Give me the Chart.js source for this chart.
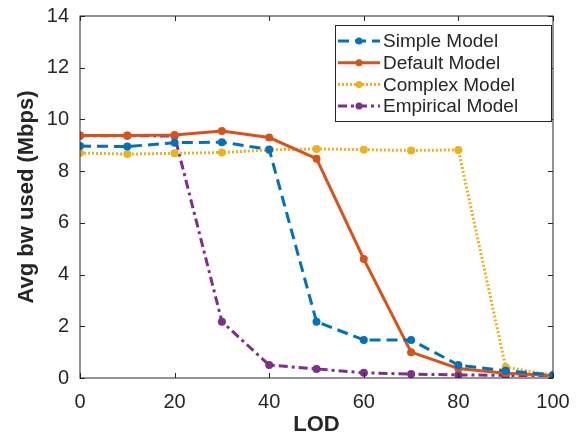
<!DOCTYPE html>
<html lang="en">
<head>
  <meta charset="UTF-8">
  <title>Avg bw used vs LOD</title>
  <script src="https://cdn.jsdelivr.net/npm/chart.js"></script>
  <style>
    body {
      margin: 0;
      padding: 0;
      background: #fff;
    }
    #wrap {
      width: 576px;
      height: 438px;
    }
  </style>
</head>
<body>
  <div id="wrap">
    <canvas id="bwChart" width="576" height="438"></canvas>
  </div>

  <script>
    // values
    const lod = [0, 10, 20, 30, 40, 50, 60, 70, 80, 90, 100];
    const simpleModel    = [8.97, 8.95, 9.10, 9.12, 8.84, 2.18, 1.47, 1.47, 0.50, 0.28, 0.12];
    const defaultModel   = [9.38, 9.38, 9.40, 9.55, 9.30, 8.48, 4.60, 1.00, 0.37, 0.18, 0.10];
    const complexModel   = [8.70, 8.66, 8.69, 8.72, 8.82, 8.86, 8.83, 8.80, 8.82, 0.42, 0.10];
    const empiricalModel = [9.37, 9.37, 9.36, 2.18, 0.50, 0.35, 0.20, 0.15, 0.12, 0.10, 0.10];
    const seriesLabels = ['Simple Model', 'Default Model', 'Complex Model', 'Empirical Model'];
    const xTicks = [0, 20, 40, 60, 80, 100];
    const yTicks = [0, 2, 4, 6, 8, 10, 12, 14];

    const axisColor = '#262626';
    const fontFamily = '"Liberation Sans", Arial, sans-serif';

    const styles = [
      { color: '#0072BD', dash: [11, 6] },
      { color: '#D95319', dash: [] },
      { color: '#EDB120', dash: [2, 2] },
      { color: '#7E2F8E', dash: [9, 4, 3, 4] }
    ];

    function toPoints(values) {
      return lod.map((x, i) => ({ x: x, y: values[i] }));
    }

    const datasets = [simpleModel, defaultModel, complexModel, empiricalModel].map((vals, i) => ({
      label: seriesLabels[i],
      data: toPoints(vals),
      borderColor: styles[i].color,
      backgroundColor: styles[i].color,
      pointBackgroundColor: styles[i].color,
      pointBorderColor: styles[i].color,
      borderDash: styles[i].dash,
      borderWidth: 3,
      pointRadius: 4,
      pointBorderWidth: 0,
      tension: 0,
      fill: false
    }));

    // box around plot + inward ticks on all four sides (matlab look)
    const boxTicks = {
      id: 'boxTicks',
      afterDatasetsDraw(chart) {
        const { ctx, chartArea: a, scales } = chart;
        ctx.save();
        ctx.strokeStyle = axisColor;
        ctx.lineWidth = 1;
        ctx.setLineDash([]);
        ctx.strokeRect(a.left, a.top, a.right - a.left, a.bottom - a.top);
        const len = 5;
        ctx.beginPath();
        xTicks.forEach(v => {
          const px = Math.round(scales.x.getPixelForValue(v)) + 0.5;
          ctx.moveTo(px, a.bottom); ctx.lineTo(px, a.bottom - len);
          ctx.moveTo(px, a.top); ctx.lineTo(px, a.top + len);
        });
        yTicks.forEach(v => {
          const py = Math.round(scales.y.getPixelForValue(v)) + 0.5;
          ctx.moveTo(a.left, py); ctx.lineTo(a.left + len, py);
          ctx.moveTo(a.right, py); ctx.lineTo(a.right - len, py);
        });
        ctx.stroke();
        ctx.restore();
      }
    };

    // legend drawn inside the plot, top right, with a border
    const boxLegend = {
      id: 'boxLegend',
      afterDraw(chart) {
        const { ctx, chartArea: a } = chart;
        const w = 216, h = 96;
        const x0 = a.right - 2 - w, y0 = a.top + 9;
        ctx.save();
        ctx.fillStyle = '#fff';
        ctx.fillRect(x0, y0, w, h);
        ctx.strokeStyle = axisColor;
        ctx.lineWidth = 1;
        ctx.setLineDash([]);
        ctx.strokeRect(x0 + 0.5, y0 + 0.5, w, h);
        ctx.font = '19px ' + fontFamily;
        ctx.textBaseline = 'middle';
        chart.data.datasets.forEach((ds, i) => {
          const cy = y0 + 16 + i * 21.7;
          ctx.strokeStyle = ds.borderColor;
          ctx.lineWidth = 3;
          ctx.setLineDash(ds.borderDash);
          ctx.beginPath();
          ctx.moveTo(x0 + 3, cy);
          ctx.lineTo(x0 + 45, cy);
          ctx.stroke();
          ctx.setLineDash([]);
          ctx.fillStyle = ds.borderColor;
          ctx.beginPath();
          ctx.arc(x0 + 24, cy, 3.5, 0, Math.PI * 2);
          ctx.fill();
          ctx.fillStyle = axisColor;
          ctx.fillText(ds.label, x0 + 48, cy + 1);
        });
        ctx.restore();
      }
    };

    const ctx = document.getElementById('bwChart').getContext('2d');
    const chart = new Chart(ctx, {
      type: 'line',
      data: { datasets },
      options: {
        responsive: false,
        animation: false,
        layout: { padding: { top: 16, right: 23, left: 0, bottom: 0 } },
        plugins: {
          legend: { display: false },
          tooltip: { enabled: false }
        },
        scales: {
          x: {
            type: 'linear',
            min: 0,
            max: 100,
            afterFit(scale) {
              scale.height = 60;
              scale.paddingLeft = 0;
              scale.paddingRight = 0;
            },
            afterBuildTicks(scale) { scale.ticks = xTicks.map(v => ({ value: v })); },
            grid: { display: false, drawTicks: false },
            border: { display: false },
            ticks: {
              color: axisColor,
              padding: 12,
              font: { family: fontFamily, size: 20 }
            },
            title: {
              display: true,
              text: 'LOD',
              color: axisColor,
              font: { family: fontFamily, size: 22, weight: 'bold' },
              padding: { top: 0, bottom: 0 }
            }
          },
          y: {
            min: 0,
            max: 14,
            afterFit(scale) {
              scale.width = 80;
              scale.paddingTop = 0;
              scale.paddingBottom = 0;
            },
            afterBuildTicks(scale) { scale.ticks = yTicks.map(v => ({ value: v })); },
            grid: { display: false, drawTicks: false },
            border: { display: false },
            ticks: {
              color: axisColor,
              padding: 11,
              font: { family: fontFamily, size: 20 }
            },
            title: {
              display: true,
              text: 'Avg bw used (Mbps)',
              color: axisColor,
              font: { family: fontFamily, size: 22, weight: 'bold' },
              padding: { top: 14, bottom: 0 }
            }
          }
        }
      },
      plugins: [boxTicks, boxLegend]
    });
  </script>
</body>
</html>
